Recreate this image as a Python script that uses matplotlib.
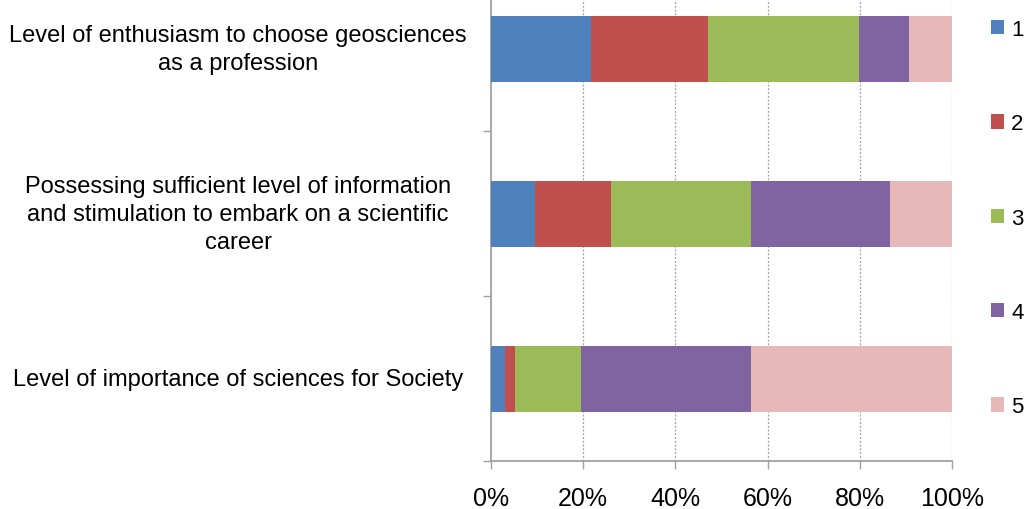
import matplotlib.pyplot as plt
import matplotlib.transforms as mtransforms
from matplotlib.patches import Patch
import numpy as np

# survey questions (top to bottom) and answer shares in percent
categories = [
    'Level of enthusiasm to choose geosciences\nas a profession',
    'Possessing sufficient level of information\nand stimulation to embark on a scientific\ncareer',
    'Level of importance of sciences for Society',
]
levels = ['1', '2', '3', '4', '5']
share_1 = [21.8, 9.6, 3.0]
share_2 = [25.3, 16.4, 2.2]
share_3 = [32.8, 30.3, 14.4]
share_4 = [10.8, 30.3, 36.7]
share_5 = [9.3, 13.4, 43.7]
x_ticks = [0, 20, 40, 60, 80, 100]

colors = ['#4F81BD', '#C0504D', '#9BBB59', '#8064A2', '#E6B8B7']
plt.rcParams['font.family'] = ['Liberation Sans', 'DejaVu Sans']

fig = plt.figure(figsize=(10.26, 5.10), dpi=100)
ax = fig.add_axes([491 / 1026, 48 / 510, 461 / 1026, 494.5 / 510])

y = np.arange(len(categories))
left = np.zeros(len(categories))
for vals, col, lab in zip([share_1, share_2, share_3, share_4, share_5], colors, levels):
    ax.barh(y, vals, left=left, height=0.4, color=col, label=lab, zorder=3)
    left += np.array(vals)

ax.set_xlim(0, 100)
ax.set_ylim(2.5, -0.5)

ax.set_xticks(x_ticks)
ax.set_xticklabels([f'{t}%' for t in x_ticks], fontsize=18)
ax.tick_params(axis='x', direction='out', length=6, width=1, color='#A0A0A0', pad=12)

ax.set_yticks([])
ax.set_yticks([0.5, 1.5, 2.5], minor=True)
ax.tick_params(axis='y', which='minor', direction='out', length=6, width=1, color='#A0A0A0')

for xv in x_ticks[1:]:
    ax.axvline(xv, color='#A0A0A0', linestyle=(0, (1.5, 1.5)), linewidth=0.9, zorder=1)

for side in ['top', 'right']:
    ax.spines[side].set_visible(False)
for side in ['left', 'bottom']:
    ax.spines[side].set_color('#A0A0A0')
    ax.spines[side].set_linewidth(1.3)

trans = mtransforms.blended_transform_factory(fig.transFigure, ax.transData)
for yi, cat in zip(y, categories):
    ax.text(238 / 1026, yi, cat, transform=trans, ha='center', va='center',
            multialignment='center', fontsize=17, linespacing=1.36)

handles = [Patch(facecolor=c, edgecolor='none') for c in colors]
fig.legend(handles, levels, loc='upper left', bbox_to_anchor=(991 / 1026, 1.0 - 20 / 510),
           frameon=False, fontsize=16, handlelength=0.6, handleheight=0.6,
           handletextpad=0.3, labelspacing=3.3, borderaxespad=0, borderpad=0)

fig.savefig('out.png', dpi=100)
